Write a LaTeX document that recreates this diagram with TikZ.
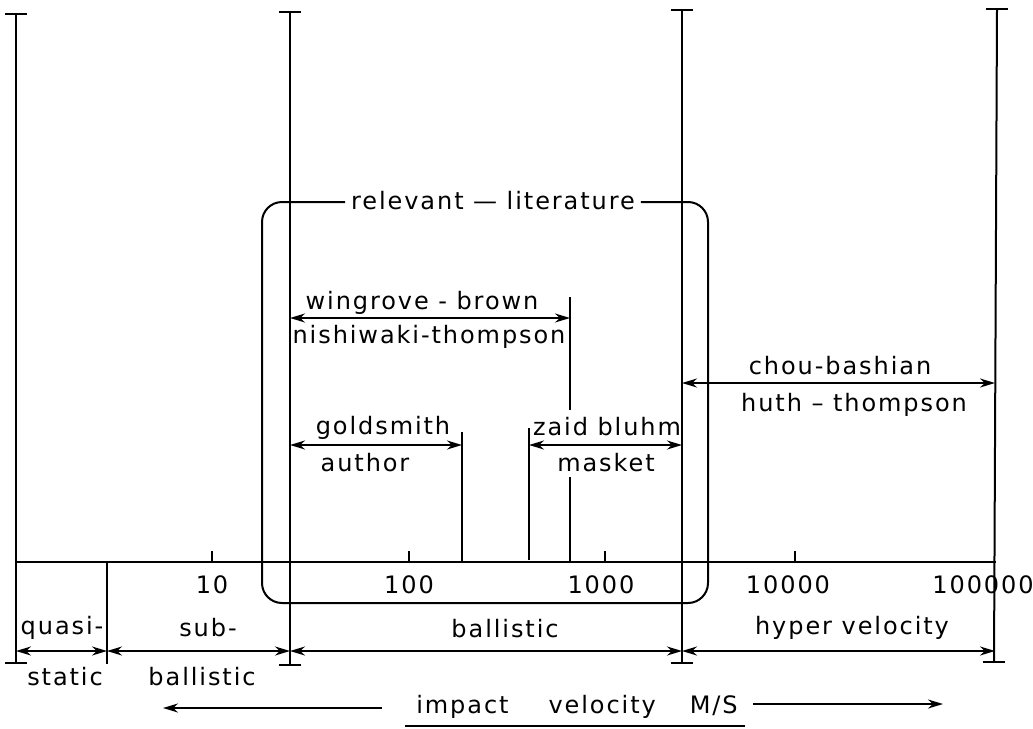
\documentclass[tikz,border=0pt]{standalone}
\usepackage{fontspec}
\newfontfamily\labfont[LetterSpace=8]{DejaVu Sans}
\usetikzlibrary{arrows.meta}
\begin{document}
\begin{tikzpicture}[x=1pt,y=-1pt, line width=2pt,
  lab/.style={font=\labfont\fontsize{24}{26}\selectfont, inner sep=0pt, anchor=center},
  arr/.style={-{Stealth[length=15pt,width=9pt]}},
  darr/.style={{Stealth[length=15pt,width=9pt]}-{Stealth[length=15pt,width=9pt]}},
  tick/.style={line width=1.8pt}]
\useasboundingbox (0,0) rectangle (1033,728);

% main verticals with T ends
\coordinate (A1t) at (16,14);  \coordinate (A1b) at (16,663);
\coordinate (A2t) at (290,12); \coordinate (A2b) at (290,665);
\coordinate (A3t) at (682,10); \coordinate (A3b) at (682,663);
\coordinate (A4t) at (997,9);  \coordinate (A4b) at (994,662);
\foreach \a in {A1,A2,A3,A4}{
  \draw (\a t) -- (\a b);
  \draw ([xshift=-11pt]\a t) -- ([xshift=11pt]\a t);
  \draw ([xshift=-11pt]\a b) -- ([xshift=11pt]\a b);
}

% axis
\coordinate (ax0) at (16,562); \coordinate (ax1) at (996,562);
\draw (ax0) -- (ax1);
\foreach \n/\x in {t1/212,t2/409,t3/605,t4/795}{
  \coordinate (\n a) at (\x,551); \coordinate (\n b) at (\x,562);
  \draw[tick] (\n a) -- (\n b);
}
\node[lab] (l10) at (212,585) {10};
\node[lab] (l100) at (409,585) {100};
\node[lab] (l1000) at (601,585) {1000};
\node[lab] (l10000) at (788,585) {10000};
\node[lab] (l100000) at (983,585) {100000};

% separator quasi-static / sub-ballistic
\coordinate (sepT) at (107,562); \coordinate (sepB) at (107,664);
\draw (sepT) -- (sepB);

% bottom ranges
\coordinate (q0) at (16,651); \coordinate (q1) at (107,651);
\coordinate (s1) at (290,651); \coordinate (b1) at (682,651);
\coordinate (h1) at (995,651);
\draw[darr] (q0) -- (q1);
\draw[darr] (q1) -- (s1);
\draw[darr] (s1) -- (b1);
\draw[darr] (b1) -- (h1);
\node[lab] (quasi) at (62,628) {quasi-};
\node[lab] (static) at (65,677) {static};
\node[lab] (sub) at (208,628) {sub-};
\node[lab] (subb) at (202,677) {ballistic};
\node[lab] (ball) at (505,629) {ballistic};
\node[lab] (hyper) at (852,628) {hyper velocity};

% relevant literature box
\node[lab] (lit) at (493,201) {relevant — literature};
\draw[rounded corners=20pt] ([xshift=5pt]lit.east |- 0,202) -- (708,202) -- (708,603) -- (262,603) -- (262,202) -- ([xshift=-5pt]lit.west |- 0,202);

% wingrove-brown / nishiwaki-thompson
\coordinate (wbL) at (290,318); \coordinate (wbR) at (570,318);
\coordinate (wbT) at (570,297); \coordinate (wbG1) at (570,410);
\coordinate (wbG2) at (570,477); \coordinate (wbB) at (570,562);
\draw[darr] (wbL) -- (wbR);
\draw (wbT) -- (wbG1);
\draw (wbG2) -- (wbB);
\node[lab] (wing) at (422,303) {wingrove - brown};
\node[lab] (nish) at (429,337) {nishiwaki-thompson};

% goldsmith / author
\coordinate (gL) at (290,445); \coordinate (gR) at (462,445);
\coordinate (gT) at (462,432); \coordinate (gB) at (462,562);
\draw[darr] (gL) -- (gR);
\draw (gT) -- (gB);
\node[lab] (gold) at (383,428) {goldsmith};
\node[lab] (auth) at (365,463) {author};

% zaid bluhm / masket
\coordinate (zL) at (529,445); \coordinate (zR) at (682,445);
\coordinate (zT) at (529,428); \coordinate (zB) at (529,560);
\draw[darr] (zL) -- (zR);
\draw (zT) -- (zB);
\node[lab] (zaid) at (607,427) {zaid bluhm};
\node[lab] (mask) at (606,463) {masket};

% chou-bashian / huth-thompson
\coordinate (cL) at (682,383); \coordinate (cR) at (995,383);
\draw[darr] (cL) -- (cR);
\node[lab] (chou) at (840,366) {chou-bashian};
\node[lab] (huth) at (854,405) {huth – thompson};

% impact velocity
\node[lab] (imp) at (577,707) {impact\hspace{40pt}velocity\hspace{34pt}M/S};
\coordinate (iaL) at (163,708); \coordinate (iaR) at (382,708);
\coordinate (ibL) at (753,704); \coordinate (ibR) at (943,704);
\draw[arr] (iaR) -- (iaL);
\draw[arr] (ibL) -- (ibR);
\coordinate (ulL) at (405,726); \coordinate (ulR) at (745,726);
\draw (ulL) -- (ulR);
\end{tikzpicture}
\end{document}
